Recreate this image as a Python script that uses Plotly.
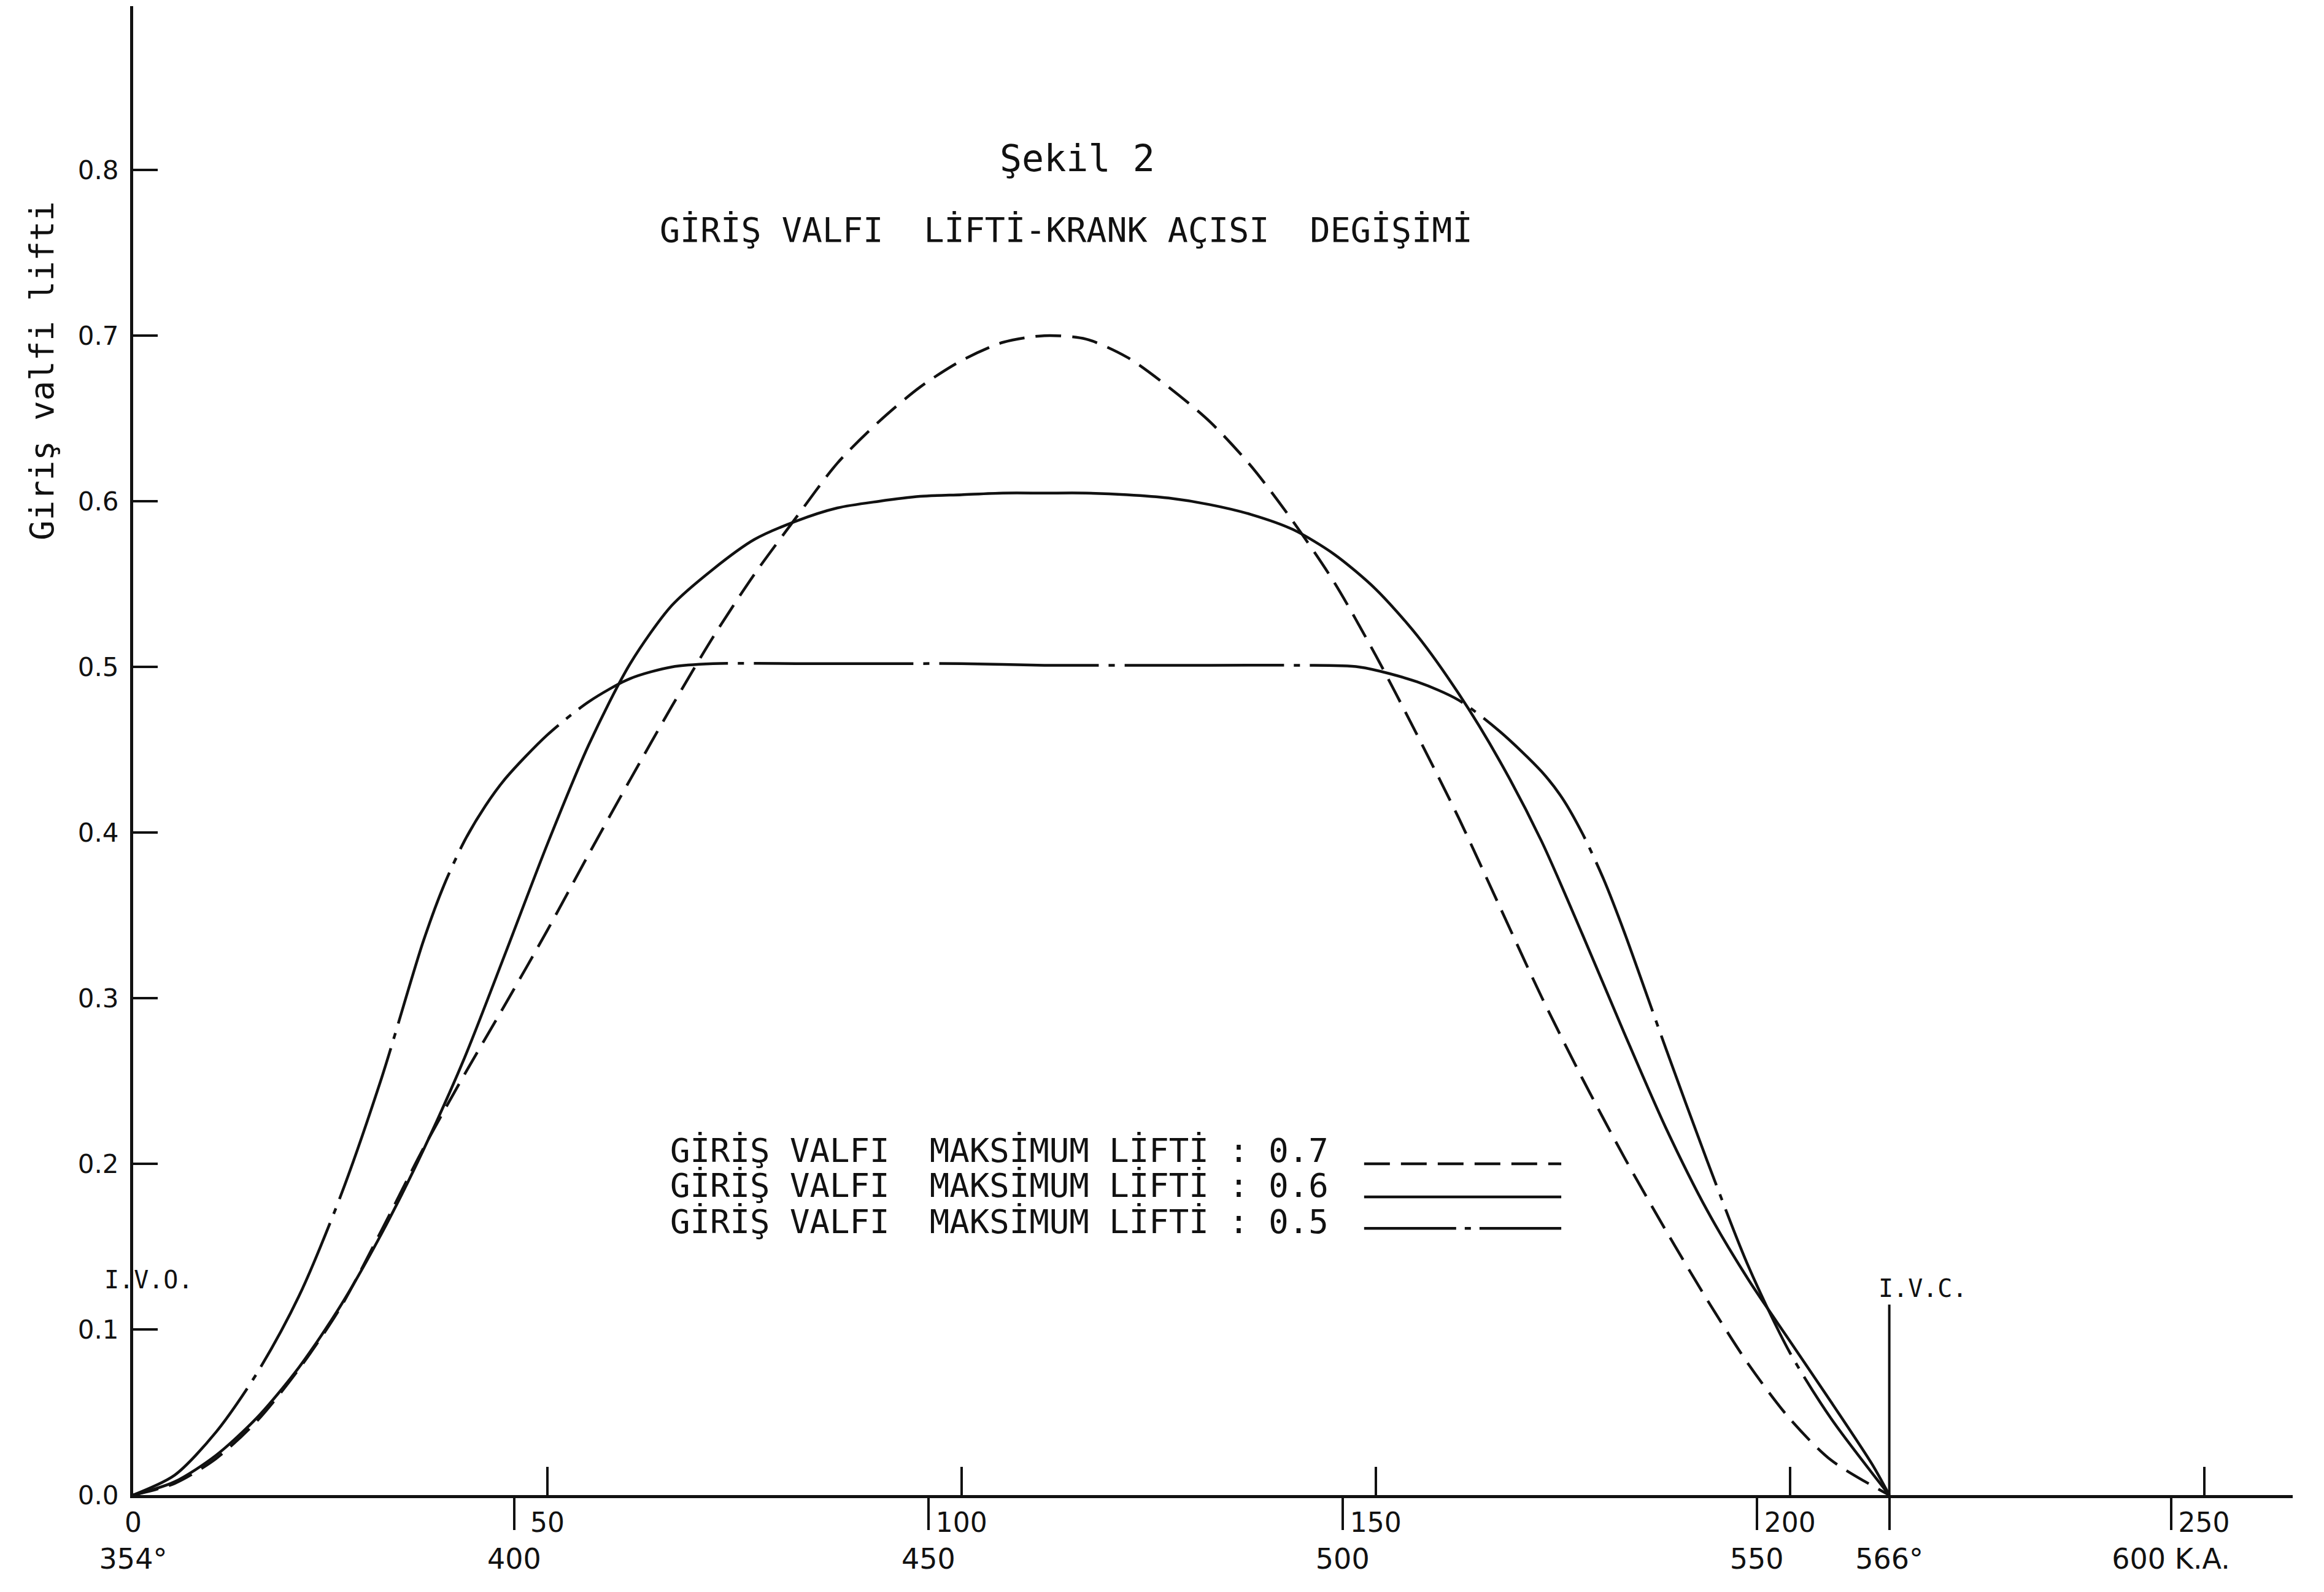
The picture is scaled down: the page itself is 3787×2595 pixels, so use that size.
import plotly.graph_objects as go

# ---------------- data ----------------
# x: crank angle after intake valve opening (deg), IVO at 354 deg
ivo_angle = 354
ivc_angle = 566

x_07 = [0, 5, 10, 15, 20, 25, 30, 35, 40, 45, 50, 55, 60, 65, 70, 75, 80, 85, 90, 95, 100,
        105, 110, 115, 120, 125, 130, 135, 140, 145, 150, 155, 160, 165, 170, 175, 180, 185,
        190, 195, 200, 205, 212]
lift_07 = [0.0, 0.007, 0.022, 0.045, 0.076, 0.113, 0.160, 0.209, 0.254, 0.297, 0.341, 0.387,
           0.432, 0.476, 0.518, 0.556, 0.590, 0.623, 0.648, 0.669, 0.685, 0.696, 0.700, 0.698,
           0.687, 0.669, 0.648, 0.621, 0.588, 0.551, 0.507, 0.459, 0.409, 0.355, 0.301, 0.251,
           0.204, 0.160, 0.118, 0.079, 0.046, 0.021, 0.0]

x_06 = [0, 5, 10, 15, 20, 25, 30, 35, 40, 45, 50, 55, 60, 65, 70, 75, 80, 85, 90, 95, 100,
        105, 110, 115, 120, 125, 130, 135, 140, 145, 150, 155, 160, 165, 170, 175, 180, 185,
        190, 195, 200, 205, 210, 212]
lift_06 = [0.0, 0.008, 0.024, 0.047, 0.077, 0.114, 0.158, 0.208, 0.264, 0.328, 0.393, 0.453,
           0.502, 0.537, 0.559, 0.577, 0.588, 0.596, 0.600, 0.603, 0.604, 0.605, 0.605, 0.605,
           0.604, 0.602, 0.598, 0.592, 0.583, 0.568, 0.547, 0.519, 0.484, 0.443, 0.395, 0.338,
           0.279, 0.222, 0.172, 0.130, 0.093, 0.056, 0.018, 0.0]

x_05 = [0, 5, 10, 15, 20, 25, 30, 35, 37.5, 40, 42.5, 45, 50, 55, 60, 65, 70, 80, 90, 100, 110,
        120, 130, 140, 148, 155, 160, 165, 170, 172.5, 175, 177.5, 180, 185, 190, 195, 200, 205, 212]
lift_05 = [0.0, 0.012, 0.038, 0.074, 0.120, 0.180, 0.252, 0.334, 0.368, 0.395, 0.416, 0.433,
           0.459, 0.479, 0.493, 0.500, 0.502, 0.502, 0.502, 0.502, 0.501, 0.501, 0.501, 0.501,
           0.500, 0.491, 0.480, 0.461, 0.437, 0.421, 0.399, 0.372, 0.340, 0.270, 0.202, 0.138,
           0.086, 0.046, 0.0]

# axis tick values / labels
upper_ticks = [0, 50, 100, 150, 200, 250]
lower_angles = [400, 450, 500, 550, 566, 600]
lower_labels = ["400", "450", "500", "550", "566°", "600 K.A."]
y_ticks = [0.0, 0.1, 0.2, 0.3, 0.4, 0.5, 0.6, 0.7, 0.8]

ivc_marker_height = 0.115

legend_texts = ["GİRİŞ VALFI  MAKSİMUM LİFTİ : 0.7",
                "GİRİŞ VALFI  MAKSİMUM LİFTİ : 0.6",
                "GİRİŞ VALFI  MAKSİMUM LİFTİ : 0.5"]

# ---------------- styles ----------------
INK = "#111111"
DASH = "42px,18px"
DASHDOT = "260px,16px,10px,16px"
MONO = "DejaVu Sans Mono"
SANS = "DejaVu Sans"
LW = 4.5

fig = go.Figure()

fig.add_trace(go.Scatter(x=x_07, y=lift_07, mode="lines", line=dict(color=INK, width=LW, dash=DASH, shape="spline", smoothing=0.8),
                         showlegend=False, hoverinfo="skip"))
fig.add_trace(go.Scatter(x=x_06, y=lift_06, mode="lines", line=dict(color=INK, width=LW, shape="spline", smoothing=0.8),
                         showlegend=False, hoverinfo="skip"))
fig.add_trace(go.Scatter(x=x_05, y=lift_05, mode="lines", line=dict(color=INK, width=LW, dash=DASHDOT, shape="spline", smoothing=0.8),
                         showlegend=False, hoverinfo="skip"))

ivc_x = ivc_angle - ivo_angle
fig.add_trace(go.Scatter(x=[ivc_x, ivc_x], y=[0, ivc_marker_height], mode="lines", xaxis="x2",
                         line=dict(color=INK, width=4), showlegend=False, hoverinfo="skip"))
fig.add_trace(go.Scatter(x=[0], y=[0], mode="markers", xaxis="x3", marker=dict(opacity=0),
                         showlegend=False, hoverinfo="skip"))

xmax = 260.7
lower_pos = [a - ivo_angle for a in lower_angles]

fig.update_layout(
    width=3787, height=2595,
    margin=dict(l=217, r=51, t=10, b=158),
    paper_bgcolor="white", plot_bgcolor="white",
    showlegend=False,
    xaxis=dict(range=[0, xmax], tickvals=upper_ticks, ticktext=[str(v) for v in upper_ticks],
               ticks="inside", ticklen=46, tickwidth=4, tickcolor=INK,
               showline=True, linewidth=5, linecolor=INK, showgrid=False, zeroline=False,
               tickfont=dict(family=SANS, size=44, color=INK), ticklabelstandoff=2),
    xaxis2=dict(range=[0, xmax], overlaying="x", anchor="y", side="bottom",
                tickvals=lower_pos, ticktext=lower_labels,
                ticks="outside", ticklen=56, tickwidth=4, tickcolor=INK,
                showline=False, showgrid=False, zeroline=False,
                tickfont=dict(family=SANS, size=46, color=INK), ticklabelstandoff=8),
    xaxis3=dict(range=[0, xmax], overlaying="x", anchor="y", side="bottom",
                tickvals=[0], ticktext=[f"{ivo_angle}°"],
                ticks="outside", ticklen=56, tickwidth=4, tickcolor="rgba(0,0,0,0)",
                showline=False, showgrid=False, zeroline=False,
                tickfont=dict(family=SANS, size=46, color=INK), ticklabelstandoff=8),
    yaxis=dict(range=[0, 0.899], tickvals=y_ticks, ticktext=[f"{v:.1f}" for v in y_ticks],
               ticks="inside", ticklen=40, tickwidth=4, tickcolor=INK,
               showline=True, linewidth=5, linecolor=INK, showgrid=False, zeroline=False,
               tickfont=dict(family=SANS, size=42, color=INK), ticklabelstandoff=10),
)

annotations = [
    dict(text="Şekil 2", x=0.4373, y=0.898, xref="paper", yref="paper", showarrow=False,
         xanchor="center", yanchor="middle", font=dict(family=MONO, size=60, color=INK)),
    dict(text="GİRİŞ VALFI  LİFTİ-KRANK AÇISI  DEGİŞİMİ", x=0.432, y=0.8496, xref="paper", yref="paper",
         showarrow=False, xanchor="center", yanchor="middle", font=dict(family=MONO, size=55, color=INK)),
    dict(text="Giriş valfi lifti", x=-0.0423, y=0.755, xref="paper", yref="paper", showarrow=False,
         textangle=-90, xanchor="center", yanchor="middle", font=dict(family=MONO, size=54, color=INK)),
    dict(text="I.V.O.", x=1.9, y=0.13, xref="x", yref="y", showarrow=False,
         xanchor="center", yanchor="middle", font=dict(family=MONO, size=40, color=INK)),
    dict(text="I.V.C.", x=216.1, y=0.125, xref="x", yref="y", showarrow=False,
         xanchor="center", yanchor="middle", font=dict(family=MONO, size=40, color=INK)),
]
legend_text_y = [0.208, 0.1867, 0.165]
legend_line_y = [0.200, 0.180, 0.161]
legend_dash = [DASH, "solid", "150px,14px,10px,14px"]
for t, ty, ly, d in zip(legend_texts, legend_text_y, legend_line_y, legend_dash):
    annotations.append(dict(text=t, x=64.7, y=ty, xref="x", yref="y", showarrow=False,
                            xanchor="left", yanchor="middle", font=dict(family=MONO, size=54, color=INK)))
    fig.add_shape(type="line", x0=148.6, x1=172.4, y0=ly, y1=ly, xref="x", yref="y",
                  line=dict(color=INK, width=LW, dash=d))
fig.update_layout(annotations=annotations)

fig.write_html("out.html")
